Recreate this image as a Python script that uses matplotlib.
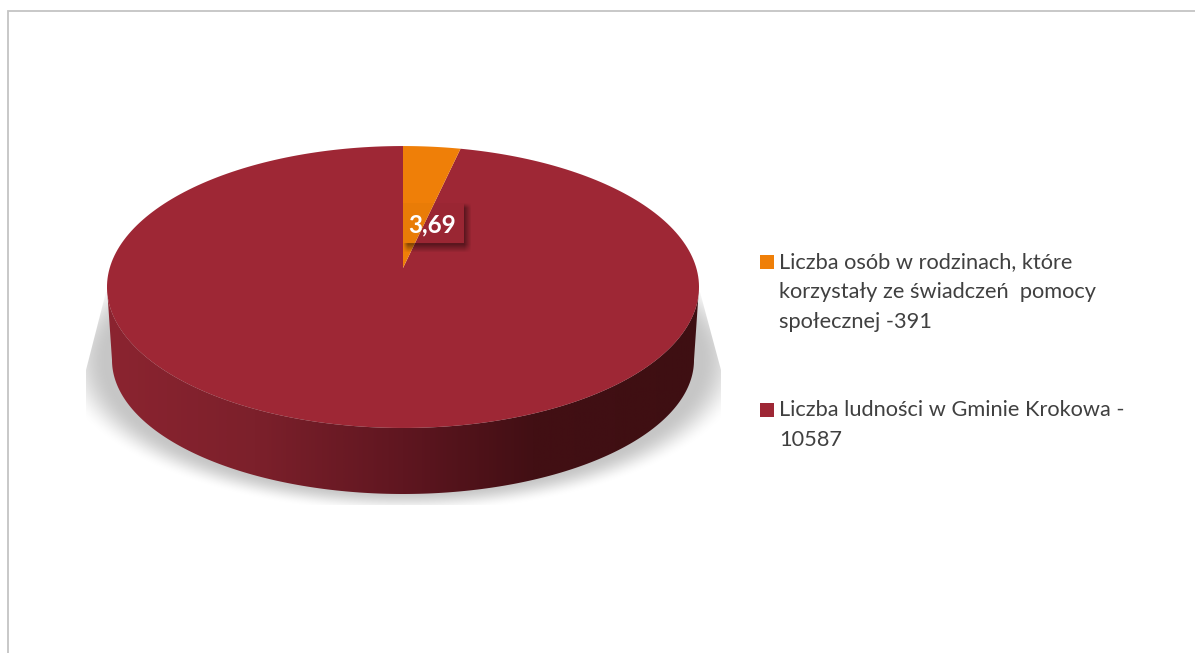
import matplotlib
matplotlib.use('Agg')
import matplotlib.pyplot as plt
import numpy as np
from matplotlib.colors import LinearSegmentedColormap
from matplotlib.patches import PathPatch, Polygon, Rectangle
from matplotlib.path import Path
from matplotlib.transforms import Affine2D

# dane
wartosci = [391, 10587]
etykiety = ['Liczba osób w rodzinach, które\nkorzystały ze świadczeń  pomocy\nspołecznej -391',
            'Liczba ludności w Gminie Krokowa -\n10587']
kolory = ['#EF7F08', '#9E2735']

plt.rcParams['font.family'] = ['Lato', 'DejaVu Sans']

W, H = 1195, 653
fig = plt.figure(figsize=(W / 100, H / 100), dpi=100)
ax = fig.add_axes([0, 0, 1, 1])


def perspektywa(u, v):
    # rzut kola na ekran, przod blizej patrzacego
    d = 1 + 0.1348 * v
    return 403 + 293.3 * u / d, 268 - 138.4 * v / d


def elipsa(cx, cy, rx, ry, a, b, n=200):
    t = np.radians(np.linspace(a, b, n))
    return np.column_stack([cx + rx * np.cos(t), cy - ry * np.sin(t)])


wedges, _ = ax.pie(wartosci, colors=kolory, startangle=90, counterclock=False, radius=1)
sciezki = []
for w in wedges:
    poly = w.get_path().transformed(Affine2D().scale(2000)).to_polygons()[0] / 2000
    x, y = perspektywa(poly[:, 0], poly[:, 1])
    sciezki.append((np.column_stack([x, y]), w.get_facecolor()))
    w.remove()

ax.set_aspect('auto')
ax.set_axis_off()

# cien pod kolem
yy, xx = np.mgrid[0:H, 0:W]
r = np.sqrt(((xx - 403) / 345) ** 2 + ((yy - 360) / 152) ** 2)
alfa = np.clip((1 - r) / 0.14, 0, 1)
alfa = alfa * alfa * (3 - 2 * alfa)
cien = np.zeros((H, W, 4))
cien[..., :3] = 0.78
cien[..., 3] = alfa
im = ax.imshow(cien, extent=(0, W, H, 0), zorder=1, interpolation='bilinear')
maska = Polygon([(106, 292), (86, 370), (86, 505), (721, 505), (721, 370), (700, 292)],
                transform=ax.transData, fc='none', ec='none')
ax.add_patch(maska)
im.set_clip_path(maska)

# bok kola
boki = np.vstack([elipsa(403, 287, 296, 141, 180, 360),
                  elipsa(403, 360, 291, 134, 360, 180)])
sciana = Polygon(boki, transform=ax.transData, fc='none', ec='none')
ax.add_patch(sciana)
gradient = LinearSegmentedColormap.from_list('bok', [(0, '#8B2430'), (0.25, '#7C202B'), (0.5, '#5F1620'),
                                                     (0.72, '#420F14'), (1, '#3E0F12')])
gr = ax.imshow(np.linspace(0, 1, 600)[None, :], extent=(107, 699, 500, 280), cmap=gradient,
               zorder=2, aspect='auto')
gr.set_clip_path(sciana)

# wierzch
for pts, kolor in reversed(sciezki):
    ax.add_patch(PathPatch(Path(pts), fc=kolor, ec='none', zorder=3))

# ramka etykiety: tylko cien, srodek przezroczysty
bx0, bx1, by0, by1 = 403, 464, 203, 243
ys, xs = np.mgrid[190:265, 395:485]
ax_c = np.clip((xs - (bx0 + 2)) / 5 + 0.5, 0, 1) * np.clip(((bx1 + 7) - xs) / 7, 0, 1)
ay_c = np.clip((ys - (by0 + 2)) / 5 + 0.5, 0, 1) * np.clip(((by1 + 9) - ys) / 8, 0, 1)
cien2 = np.zeros(xs.shape + (4,))
cien2[..., 3] = 0.42 * ax_c * ay_c * ~((xs < bx1) & (ys < by1))
ax.imshow(cien2, extent=(395, 485, 265, 190), zorder=4, interpolation='bilinear')
ax.add_patch(Rectangle((bx0, by0), bx1 - bx0, by1 - by0, fc='black', alpha=0.025, ec='none', zorder=4))

procent = wartosci[0] / wartosci[1] * 100
ax.text(432, 232.5, f'{procent:.2f}'.replace('.', ','), color='white', fontsize=17.5, fontweight='bold',
        ha='center', va='baseline', zorder=5)

# legenda
for kolor, etykieta, y0, dy in zip(kolory, etykiety, [268.5, 416.5], [29.7, 29.7]):
    ax.add_patch(Rectangle((760, y0 - 13.5), 14, 14, fc=kolor, ec='none', zorder=5))
    for i, linia in enumerate(etykieta.split('\n')):
        ax.text(779, y0 + i * dy, linia, color='#404040', fontsize=15.7, ha='left', va='baseline', zorder=5)

# ramka wykresu
ax.plot([8, 8, W], [H, 11, 11], color='#C4C4C4', lw=1.3, zorder=6, solid_joinstyle='miter')

ax.set_xlim(0, W)
ax.set_ylim(H, 0)
fig.savefig('out.png', dpi=100, facecolor='white')
